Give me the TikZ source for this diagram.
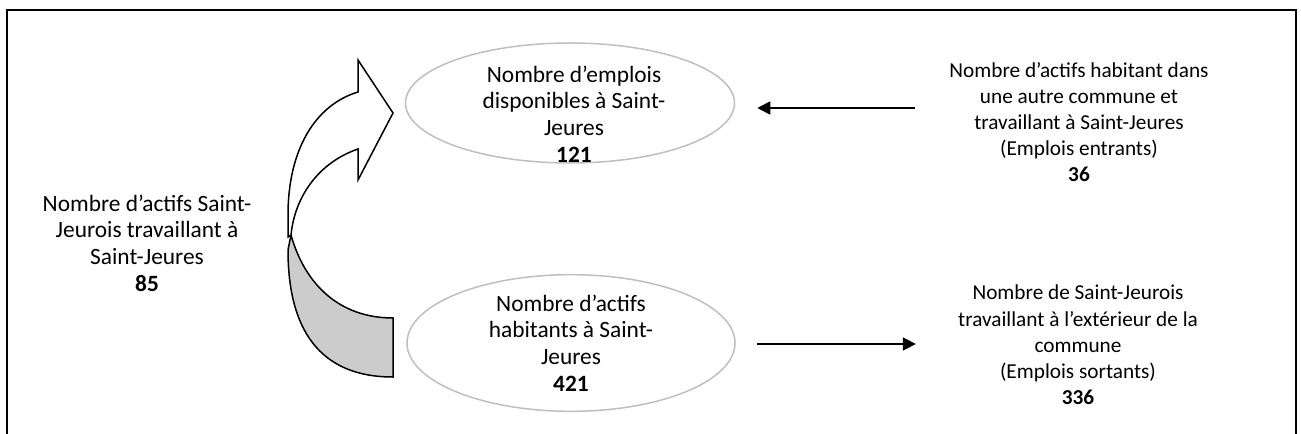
\documentclass[tikz,border=0pt]{standalone}
\usepackage{fontspec}
\setmainfont{Carlito}
\usetikzlibrary{shapes,arrows.meta,positioning,calc}

\begin{document}
\begin{tikzpicture}[x=0.2mm, y=-0.2mm,
    bubble/.style={ellipse, draw=black!25, line width=0.3mm},
    txt/.style={align=center, inner sep=0pt, font=\fontsize{13.3}{15.2}\selectfont},
    smalltxt/.style={txt, font=\fontsize{12.1}{14.9}\selectfont},
    flow/.style={-{Triangle[length=2.6mm,width=2.6mm]}, line width=0.35mm},
    bigarrow/.style={draw=black, line width=0.3mm}]
    \useasboundingbox (0,0) rectangle (1301,434);

    % frame, open at the bottom
    \draw[line width=0.45mm] (7,440) -- (7,10) -- (1296,10) -- (1296,440);

    \node[bubble, minimum width=65.8mm, minimum height=24mm] (emplois) at (570,103) {};
    \node[txt] (emploisTxt) at (574,114) {Nombre d’emplois\\disponibles à Saint-\\Jeures\\\textbf{121}};
    \node[bubble, txt, minimum width=65.6mm, minimum height=25.8mm] (habitants) at (571,343) {Nombre d’actifs\\habitants à Saint-\\Jeures\\\textbf{421}};

    \node[smalltxt] (entrants) at (1079,122) {Nombre d’actifs habitant dans\\une autre commune et\\travaillant à Saint-Jeures\\(Emplois entrants)\\\textbf{36}};
    \node[smalltxt] (sortants) at (1078,345) {Nombre de Saint-Jeurois\\travaillant à l’extérieur de la\\commune\\(Emplois sortants)\\\textbf{336}};
    \node[txt] (internes) at (147,243) {Nombre d’actifs Saint-\\Jeurois travaillant à\\Saint-Jeures\\\textbf{85}};

    \draw[flow] ($(entrants.west |- emplois.east)+(-34,5)$) -- ($(emplois.east)+(22,5)$);
    \draw[flow] ($(habitants.east)+(21,1)$) -- ($(sortants.west |- habitants.east)+(-42,1)$);

    % curved arrow: shaded back band, then the front with its head
    \filldraw[bigarrow, fill=black!20] (291,235) .. controls (305,285) and (340,318) .. (393,318) -- (393,377) .. controls (320,377) and (288,330) .. (288,250) -- cycle;
    \filldraw[bigarrow, fill=white] (288,237) -- (288,215) .. controls (288,150) and (315,105) .. (358,92) -- (358,60) -- (393,113) -- (358,180) -- (358,149) .. controls (320,162) and (295,195) .. (291,235) -- cycle;
\end{tikzpicture}
\end{document}
